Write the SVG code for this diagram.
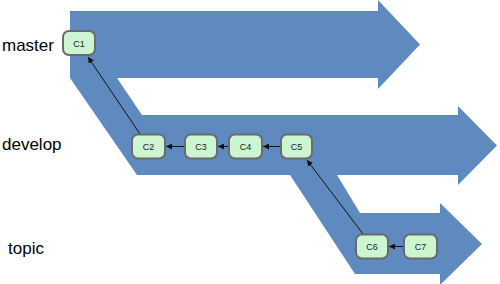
<svg xmlns="http://www.w3.org/2000/svg" width="500" height="284" viewBox="0 0 500 284">
<style>
.band{fill:#5f8ac0}
.lbl{font-family:"Liberation Sans",Arial,sans-serif;font-size:17px;fill:#000}
.node rect{fill:#ccf5d2;stroke:#6b6b6b;stroke-width:2}
.node text{font-family:"Liberation Sans",Arial,sans-serif;font-size:9px;fill:#222;text-anchor:middle}
.edge{stroke:#111;stroke-width:1;fill:none;marker-end:url(#ah)}
</style>
<defs>
<marker id="ah" viewBox="0 0 10 10" refX="10" refY="5" markerWidth="6" markerHeight="6" orient="auto" markerUnits="userSpaceOnUse">
<path d="M0,0 L10,5 L0,10 Z" fill="#111"/>
</marker>
</defs>
<rect width="500" height="284" fill="#fff"/>
<g id="branches">
<path class="band" d="M70,11 L378,11 L378,0 L420,44.5 L378,89 L378,78 L117,78 L142,115 L458,115 L458,106 L497,145.5 L458,185 L458,175 L337,175 L360,213 L440,213 L440,203 L482,244 L440,285 L440,274 L355,274 L290,175 L137,175 L70,78 Z"/>
</g>
<g id="labels">
<text class="lbl" x="2" y="51">master</text>
<text class="lbl" x="2" y="150">develop</text>
<text class="lbl" x="8" y="254">topic</text>
</g>
<g id="connectors">
<line class="edge" x1="140" y1="134" x2="88" y2="57"/>
<line class="edge" x1="185" y1="146.5" x2="166" y2="146.5"/>
<line class="edge" x1="229" y1="146.5" x2="218" y2="146.5"/>
<line class="edge" x1="281" y1="146.5" x2="263" y2="146.5"/>
<line class="edge" x1="363" y1="234" x2="307" y2="160"/>
<line class="edge" x1="404" y1="246.5" x2="389" y2="246.5"/>
</g>
<g id="C1" class="node"><rect x="63" y="31" width="32" height="24" rx="6"/><text x="79" y="46.5">C1</text></g>
<g id="C2" class="node"><rect x="132" y="134.5" width="33" height="24" rx="6"/><text x="148.5" y="150">C2</text></g>
<g id="C3" class="node"><rect x="185" y="134.5" width="32" height="24" rx="6"/><text x="201" y="150">C3</text></g>
<g id="C4" class="node"><rect x="229" y="134.5" width="33" height="24" rx="6"/><text x="245.5" y="150">C4</text></g>
<g id="C5" class="node"><rect x="281" y="134.5" width="31" height="24" rx="6"/><text x="296.5" y="150">C5</text></g>
<g id="C6" class="node"><rect x="356" y="234.5" width="32" height="24" rx="6"/><text x="372" y="250">C6</text></g>
<g id="C7" class="node"><rect x="404" y="234.5" width="33" height="24" rx="6"/><text x="420.5" y="250">C7</text></g>
</svg>
